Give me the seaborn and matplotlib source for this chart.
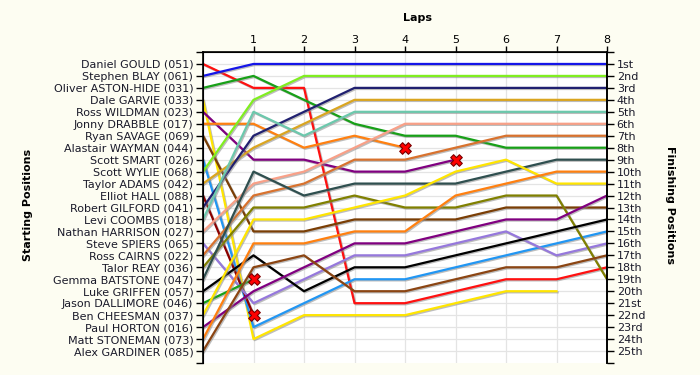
import matplotlib
matplotlib.use("Agg")
import matplotlib.pyplot as plt
import matplotlib.patheffects as pe
import seaborn as sns
import pandas as pd

# ---- data -------------------------------------------------------------
starters = ["Daniel GOULD (051)", "Stephen BLAY (061)", "Oliver ASTON-HIDE (031)",
            "Dale GARVIE (033)", "Ross WILDMAN (023)", "Jonny DRABBLE (017)",
            "Ryan SAVAGE (069)", "Alastair WAYMAN (044)", "Scott SMART (026)",
            "Scott WYLIE (068)", "Taylor ADAMS (042)", "Elliot HALL (088)",
            "Robert GILFORD (041)", "Levi COOMBS (018)", "Nathan HARRISON (027)",
            "Steve SPIERS (065)", "Ross CAIRNS (022)", "Talor REAY (036)",
            "Gemma BATSTONE (047)", "Luke GRIFFEN (057)", "Jason DALLIMORE (046)",
            "Ben CHEESMAN (037)", "Paul HORTON (016)", "Matt STONEMAN (073)",
            "Alex GARDINER (085)"]

laps = [1, 2, 3, 4, 5, 6, 7, 8]
finish_labels = ["1st", "2nd", "3rd", "4th", "5th", "6th", "7th", "8th", "9th", "10th",
                 "11th", "12th", "13th", "14th", "15th", "16th", "17th", "18th", "19th",
                 "20th", "21st", "22nd", "23rd", "24th", "25th"]

# position per lap (lap 0 = grid)
pos_gould     = [1, 3, 3, 21, 21, 20, 19, 19, 18]
pos_blay      = [2, 1, 1, 1, 1, 1, 1, 1, 1]
pos_aston     = [3, 2, 4, 6, 7, 7, 8, 8, 8]
pos_garvie    = [4, 24, 22, 22, 22, 21, 20, 20]
pos_wildman   = [5, 9, 9, 10, 10, 9]
pos_drabble   = [6, 6, 8, 7, 8]
pos_savage    = [7, 15, 15, 14, 14, 14, 13, 13, 13]
pos_smart     = [9, 23, 21, 19, 19, 18, 17, 16, 15]
pos_wylie     = [10, 4, 2, 2, 2, 2, 2, 2, 2]
pos_adams     = [11, 8, 6, 4, 4, 4, 4, 4, 4]
pos_hall      = [12, 22]
pos_gilford   = [13, 7, 5, 3, 3, 3, 3, 3, 3]
pos_coombs    = [14, 5, 7, 5, 5, 5, 5, 5, 5]
pos_harrison  = [15, 11, 10, 8, 6, 6, 6, 6, 6]
pos_spiers    = [16, 21, 19, 17, 17, 16, 15, 17, 16]
pos_cairns    = [17, 12, 11, 9, 9, 8, 7, 7, 7]
pos_reay      = [18, 13, 13, 12, 13, 13, 12, 12, 19]
pos_batstone  = [19, 10, 12, 11, 11, 11, 10, 9, 9]
pos_griffen   = [20, 17, 20, 18, 18, 17, 16, 15, 14]
pos_dallimore = [21, 19]
pos_cheesman  = [22, 14, 14, 13, 12, 10, 9, 11, 11]
pos_horton    = [23, 20, 18, 16, 16, 15, 14, 14, 12]
pos_stoneman  = [24, 16, 16, 15, 15, 12, 11, 10, 10]
pos_gardiner  = [25, 18, 17, 20, 20, 19, 18, 18, 17]

retired = ["Jonny DRABBLE (017)", "Ross WILDMAN (023)",
           "Elliot HALL (088)", "Jason DALLIMORE (046)"]

series = {
    "Daniel GOULD (051)": (pos_gould, "#FF1010"),
    "Stephen BLAY (061)": (pos_blay, "#1515E8"),
    "Oliver ASTON-HIDE (031)": (pos_aston, "#18A018"),
    "Dale GARVIE (033)": (pos_garvie, "#FFE500"),
    "Ross WILDMAN (023)": (pos_wildman, "#800080"),
    "Jonny DRABBLE (017)": (pos_drabble, "#FF8010"),
    "Ryan SAVAGE (069)": (pos_savage, "#7A3E05"),
    "Scott SMART (026)": (pos_smart, "#2196F3"),
    "Scott WYLIE (068)": (pos_wylie, "#80EE20"),
    "Taylor ADAMS (042)": (pos_adams, "#DAA520"),
    "Elliot HALL (088)": (pos_hall, "#8B0000"),
    "Robert GILFORD (041)": (pos_gilford, "#202070"),
    "Levi COOMBS (018)": (pos_coombs, "#6CC8AC"),
    "Nathan HARRISON (027)": (pos_harrison, "#F8A088"),
    "Steve SPIERS (065)": (pos_spiers, "#9678DC"),
    "Ross CAIRNS (022)": (pos_cairns, "#D8722E"),
    "Talor REAY (036)": (pos_reay, "#808000"),
    "Gemma BATSTONE (047)": (pos_batstone, "#2F4F4F"),
    "Luke GRIFFEN (057)": (pos_griffen, "#000000"),
    "Jason DALLIMORE (046)": (pos_dallimore, "#18A018"),
    "Ben CHEESMAN (037)": (pos_cheesman, "#FFE500"),
    "Paul HORTON (016)": (pos_horton, "#800080"),
    "Matt STONEMAN (073)": (pos_stoneman, "#FF8010"),
    "Alex GARDINER (085)": (pos_gardiner, "#8B4513"),
}

# ---- build tables -----------------------------------------------------
rows = []
for name, (vals, _) in series.items():
    for lap, p in enumerate(vals):
        rows.append({"driver": name, "lap": lap, "pos": p})
df = pd.DataFrame(rows)
palette = {k: v[1] for k, v in series.items()}
ret_df = pd.DataFrame([{"lap": len(series[n][0]) - 1, "pos": series[n][0][-1]} for n in retired])

# ---- figure -----------------------------------------------------------
bg = "#FDFDF2"
fig = plt.figure(figsize=(7, 3.75), dpi=100, facecolor=bg)
ax = fig.add_axes([203 / 700, 12 / 375, 404 / 700, 311 / 375])
ax.set_facecolor("white")

for p in range(1, 26):
    ax.axhline(p, color="#E4E4E4", lw=0.9, zorder=0)
for l in laps[:-1]:
    ax.axvline(l, color="#E4E4E4", lw=0.9, zorder=0)

sns.lineplot(data=df, x="lap", y="pos", hue="driver", palette=palette,
             hue_order=list(series.keys()), estimator=None, sort=False,
             legend=False, lw=1.6, ax=ax)
for ln in ax.get_lines():
    if ln.get_linewidth() >= 1.5:
        ln.set_path_effects([pe.SimpleLineShadow(offset=(0.8, -0.8), shadow_color="#888888", alpha=0.55),
                             pe.Normal()])
        ln.set_zorder(2)

sns.scatterplot(data=ret_df, x="lap", y="pos", marker="X", s=70, color="#FF0000",
                edgecolor="#7A0000", linewidth=0.8, ax=ax, zorder=5, legend=False)

ax.set_xlim(0, 8)
ax.set_ylim(26, 0)
ax.xaxis.tick_top()
ax.set_xticks(laps)
ax.set_xticklabels([str(l) for l in laps], fontsize=8)
ax.set_yticks(list(range(0, 27)))
ax.set_yticklabels([""] + starters + [""], fontsize=8, color="#1a1a2a")
ax.tick_params(axis="y", length=5, width=1, color="black", pad=2)
ax.tick_params(axis="x", length=4, width=1, color="black", pad=1)
ax.set_xlabel("")
ax.set_ylabel("")
ax.spines["bottom"].set_visible(False)
for s in ["left", "top", "right"]:
    ax.spines[s].set_color("black")
    ax.spines[s].set_linewidth(1.2)

ax2 = ax.twinx()
ax2.set_ylim(26, 0)
ax2.set_yticks(list(range(0, 27)))
ax2.set_yticklabels([""] + finish_labels + [""], fontsize=8, color="#1a1a2a")
ax2.tick_params(axis="y", length=5, width=1, pad=2)
ax2.spines["bottom"].set_visible(False)
ax2.spines["right"].set_linewidth(1.2)

fig.text(417 / 700, 1 - 18 / 375, "Laps", ha="center", va="center", fontsize=8, fontweight="bold")
fig.text(28 / 700, 1 - 205 / 375, "Starting Positions", ha="center", va="center",
         rotation=90, fontsize=8, fontweight="bold")
fig.text(670 / 700, 1 - 205 / 375, "Finishing Positions", ha="center", va="center",
         rotation=-90, fontsize=8, fontweight="bold")

fig.savefig("out.png", dpi=100, facecolor=bg)
